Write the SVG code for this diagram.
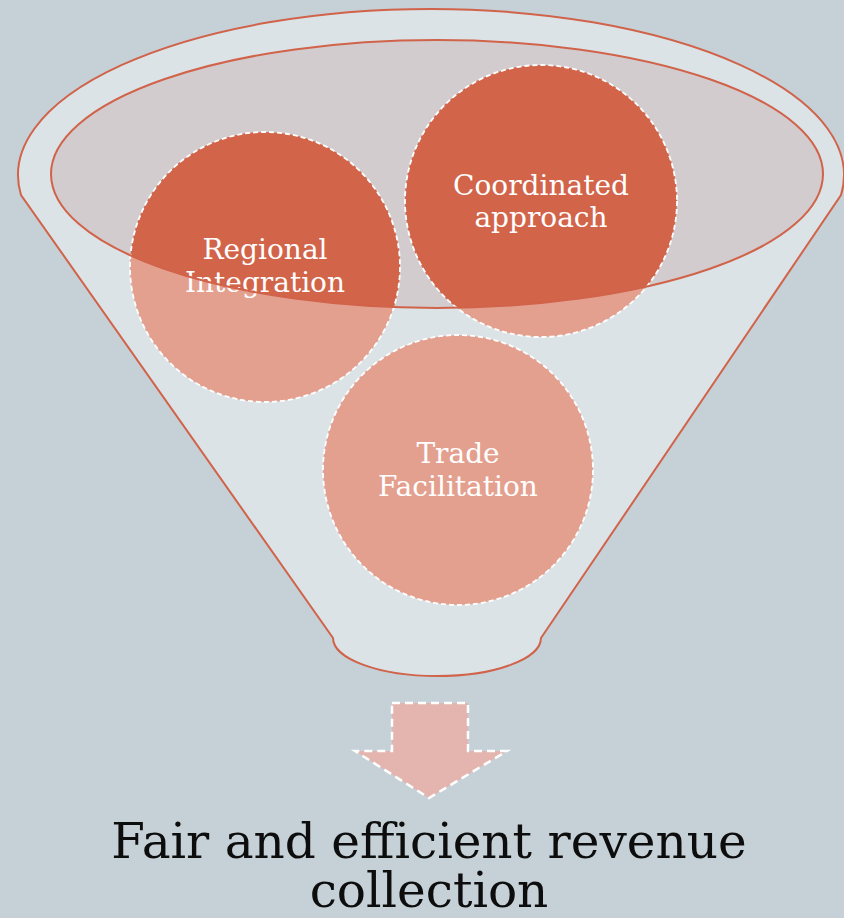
<svg xmlns="http://www.w3.org/2000/svg" width="844" height="918" viewBox="0 0 844 918">
  <style>
    .funnel { fill: #DCE3E6; stroke: #D0634A; stroke-width: 2; }
    .inner-fill { fill: #D3CCCF; }
    .inner-line { fill: none; stroke: #D0634A; stroke-width: 2; }
    .light { fill: #E4A08F; }
    .dark { fill: #D2644A; }
    .ring { fill: none; stroke: #FFFFFF; stroke-width: 1.8; stroke-dasharray: 5 3; }
    .lbl { font-family: "DejaVu Serif", "Liberation Serif", serif; font-size: 28px; fill: #FFFFFF; text-anchor: middle; }
    .out { font-family: "DejaVu Serif", "Liberation Serif", serif; font-size: 48.5px; fill: #0D0D0D; text-anchor: middle; }
    .arrow { fill: #E4B5AF; stroke: #FFFFFF; stroke-width: 2.5; stroke-dasharray: 8 5; }
  </style>
  <defs>
    <clipPath id="innerClip">
      <ellipse cx="437" cy="174" rx="386" ry="134"/>
    </clipPath>
  </defs>
  <rect width="844" height="918" fill="#C5D1D7"/>

  <g id="funnel">
    <path class="funnel" d="M21,195 A413,166 0 1 1 841,195 L541,638 A104,38 0 0 1 333,638 Z"/>
    <ellipse class="inner-fill" cx="437" cy="174" rx="386" ry="134"/>
  </g>

  <g id="node-regional">
    <circle class="light" cx="265" cy="267" r="135"/>
    <circle class="dark" cx="265" cy="267" r="135" clip-path="url(#innerClip)"/>
    <circle class="ring" cx="265" cy="267" r="135"/>
    <text class="lbl" x="265" y="259">Regional<tspan x="265" y="292">Integration</tspan></text>
  </g>

  <g id="node-coordinated">
    <circle class="light" cx="541" cy="201" r="136"/>
    <circle class="dark" cx="541" cy="201" r="136" clip-path="url(#innerClip)"/>
    <circle class="ring" cx="541" cy="201" r="136"/>
    <text class="lbl" x="541" y="195">Coordinated<tspan x="541" y="227">approach</tspan></text>
  </g>

  <g id="node-trade">
    <circle class="light" cx="458" cy="470" r="135"/>
    <circle class="ring" cx="458" cy="470" r="135"/>
    <text class="lbl" x="458" y="463">Trade<tspan x="458" y="496">Facilitation</tspan></text>
  </g>

  <g id="funnel-rim">
    <ellipse class="inner-line" cx="437" cy="174" rx="386" ry="134"/>
  </g>

  <g id="connectors">
    <path class="arrow" d="M392,703 L468,703 L468,751 L507,751 L429,798 L355,751 L392,751 Z"/>
  </g>

  <g id="node-result">
    <text class="out" x="429" y="858">Fair and efficient revenue<tspan x="429" y="907">collection</tspan></text>
  </g>
</svg>
